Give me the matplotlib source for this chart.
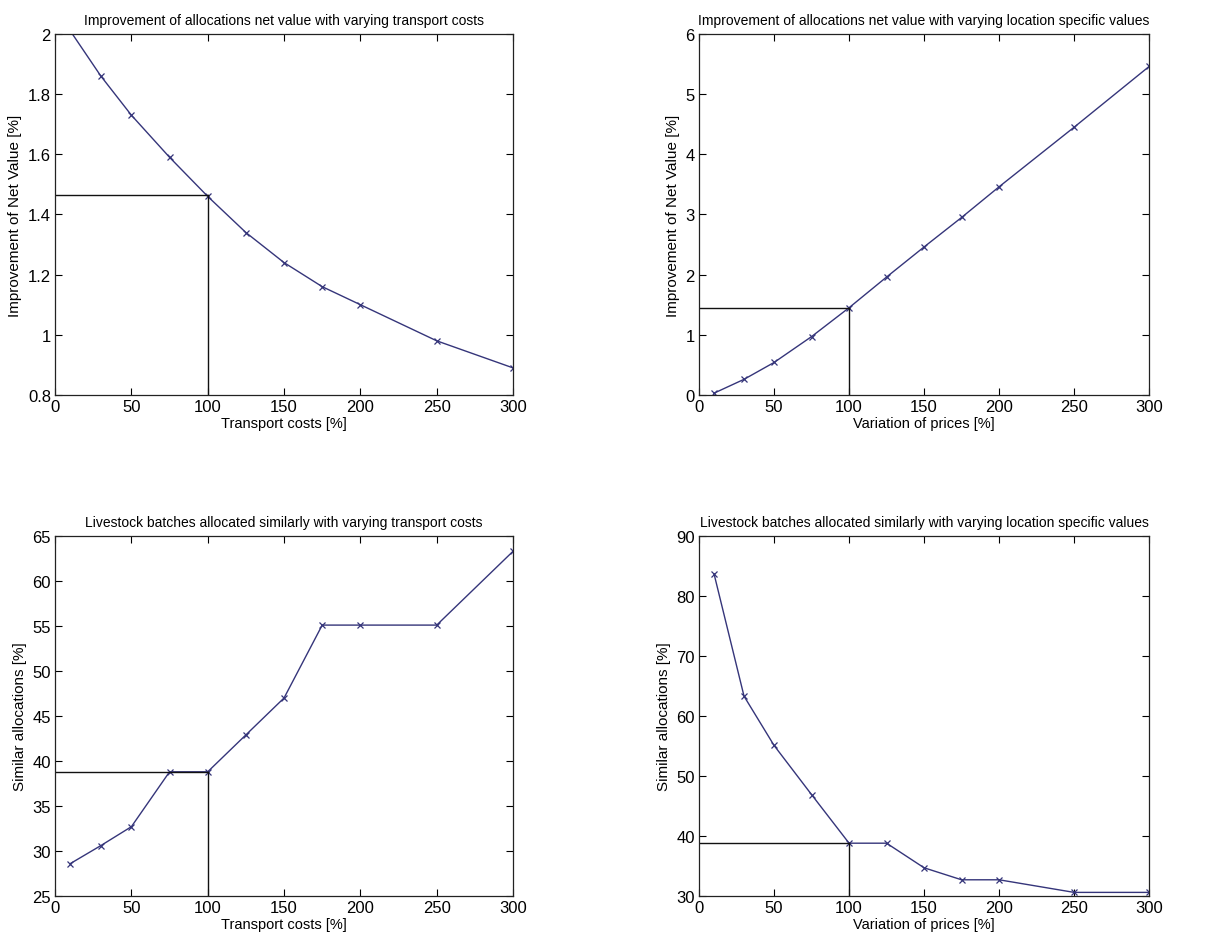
import matplotlib
matplotlib.use("Agg")
import matplotlib.pyplot as plt
from matplotlib import font_manager

names = {f.name for f in font_manager.fontManager.ttflist}
fam = ['Liberation Sans Narrow'] if 'Liberation Sans Narrow' in names else ['Liberation Sans']
plt.rcParams['font.family'] = fam + ['DejaVu Sans']

x_vals = [10, 30, 50, 75, 100, 125, 150, 175, 200, 250, 300]
net_transport = [2.01, 1.86, 1.73, 1.59, 1.46, 1.34, 1.24, 1.16, 1.10, 0.98, 0.89]
net_prices = [0.03, 0.26, 0.54, 0.97, 1.45, 1.96, 2.46, 2.95, 3.46, 4.45, 5.46]
sim_transport = [28.6, 30.6, 32.7, 38.8, 38.8, 42.9, 47.0, 55.1, 55.1, 55.1, 63.3]
sim_prices = [83.7, 63.3, 55.1, 46.9, 38.8, 38.8, 34.7, 32.7, 32.7, 30.6, 30.6]

titles = [
    "Improvement of allocations net value with varying transport costs",
    "Improvement of allocations net value with varying location specific values",
    "Livestock batches allocated similarly with varying transport costs",
    "Livestock batches allocated similarly with varying location specific values",
]
xlabels = ["Transport costs [%]", "Variation of prices [%]", "Transport costs [%]", "Variation of prices [%]"]
ylabels = ["Improvement of Net Value [%]", "Improvement of Net Value [%]",
           "Similar allocations [%]", "Similar allocations [%]"]
ylims = [(0.8, 2.0), (0, 6), (25, 65), (30, 90)]
yticks = [[0.8, 1.0, 1.2, 1.4, 1.6, 1.8, 2.0], [0, 1, 2, 3, 4, 5, 6],
          [25, 30, 35, 40, 45, 50, 55, 60, 65], [30, 40, 50, 60, 70, 80, 90]]
yticklabels = [["0.8", "1", "1.2", "1.4", "1.6", "1.8", "2"], None, None, None]
ref_values = [1.464, 1.45, 38.8, 38.8]
series = [net_transport, net_prices, sim_transport, sim_prices]
xticks = [0, 50, 100, 150, 200, 250, 300]

fig = plt.figure(figsize=(12.10, 9.37), dpi=100)
positions = [
    [0.0455, 0.5774, 0.3785, 0.3853],
    [0.5777, 0.5774, 0.3720, 0.3853],
    [0.0455, 0.0427, 0.3785, 0.3842],
    [0.5777, 0.0427, 0.3720, 0.3842],
]
line_color = '#35357a'
for i in range(4):
    ax = fig.add_axes(positions[i])
    ax.plot(x_vals, series[i], color=line_color, lw=1.0, marker='x', ms=5, mew=0.9, clip_on=True)
    r = ref_values[i]
    ax.plot([0, 100], [r, r], color='#111111', lw=1.0)
    ax.plot([100, 100], [ylims[i][0], r], color='#111111', lw=1.0)
    ax.set_xlim(0, 300)
    ax.set_ylim(*ylims[i])
    ax.set_xticks(xticks)
    ax.set_yticks(yticks[i])
    if yticklabels[i] is not None:
        ax.set_yticklabels(yticklabels[i])
    ax.tick_params(direction='in', top=True, right=True, length=5, width=0.8, labelsize=12, pad=3)
    for s in ax.spines.values():
        s.set_linewidth(0.9)
        s.set_color('#222222')
    ax.set_title(titles[i], fontsize=10, pad=7)
    ax.set_xlabel(xlabels[i], fontsize=10.5, labelpad=1)
    ax.set_ylabel(ylabels[i], fontsize=11, labelpad=4)

fig.savefig("out.png", dpi=100)
